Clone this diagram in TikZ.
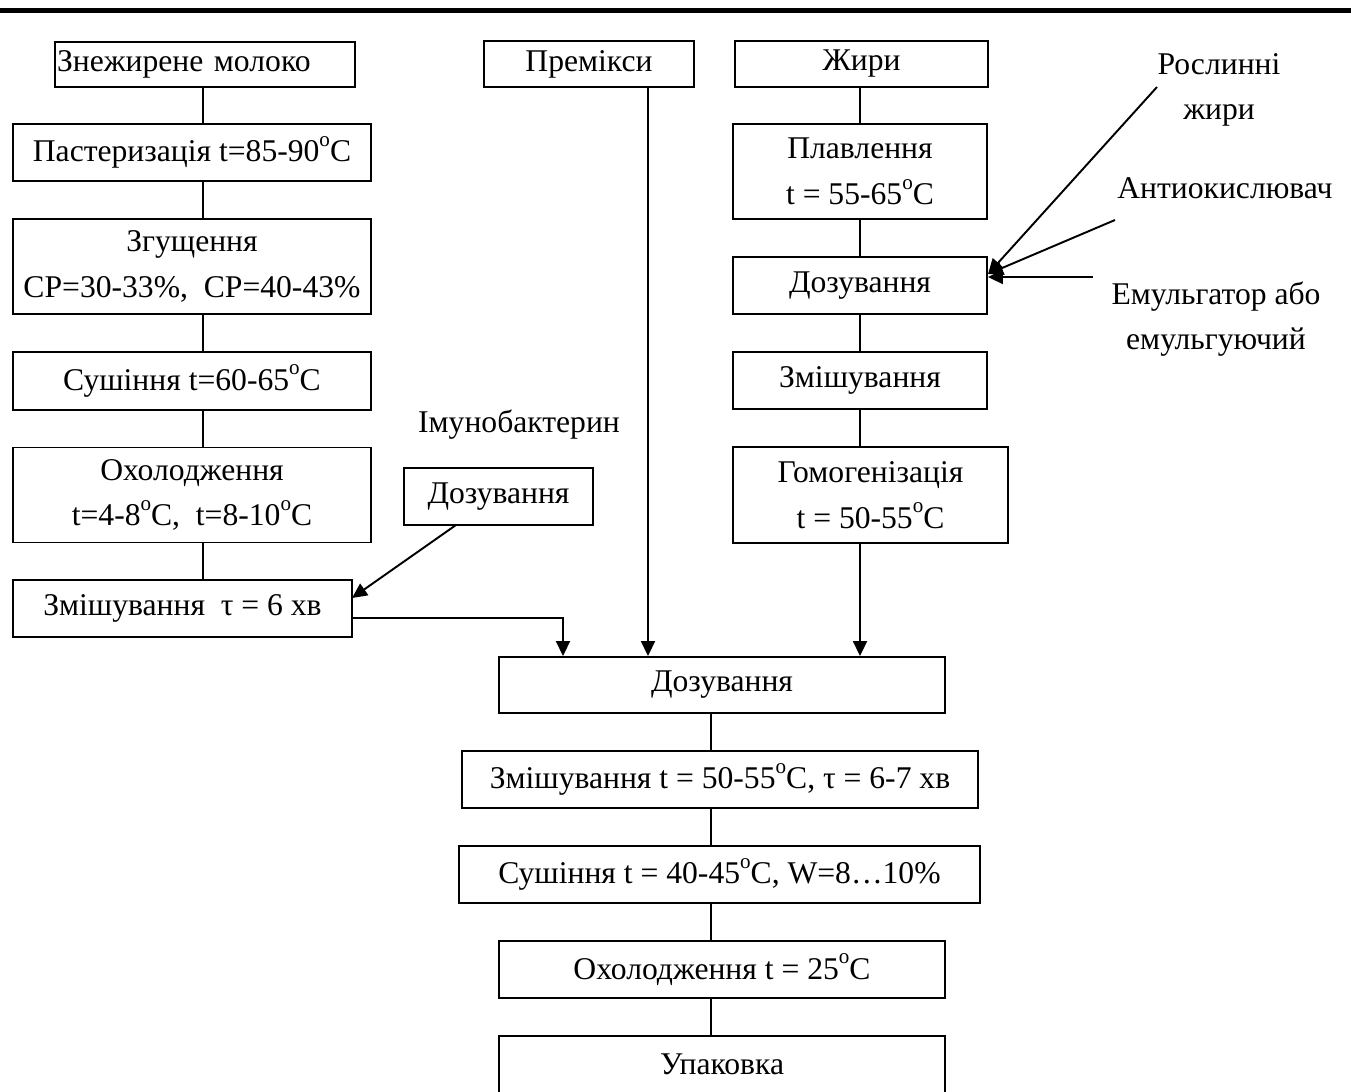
\documentclass[tikz,border=0pt]{standalone}
\usepackage{fontspec}
\setmainfont{Liberation Serif}
\usetikzlibrary{arrows.meta}
\newcommand{\dg}{\raisebox{1.05ex}{\fontsize{12}{12}\selectfont o}}
\tikzset{
	box/.style={draw=black, line width=1.1pt, inner sep=1pt, align=center},
	flow/.style={line width=1.1pt},
	feed/.style={line width=1.1pt, -{Triangle[length=0.3cm, width=0.28cm]}},
	lbl/.style={align=center, inner sep=0pt}
}
\begin{document}
\begin{tikzpicture}[x=0.02cm, y=-0.02cm, font=\fontsize{18}{26}\selectfont]
	\useasboundingbox (0,0) rectangle (1351,1091);
	\clip (0,0) rectangle (1351,1091);
	\fill[black] (0,8) rectangle (1351,13);

	% left column
	\node[box, minimum width=6cm, minimum height=0.9cm, text width=5.92cm, align=left] (milk) at (205,64.5) {Знежирене молоко};
	\node[box, minimum width=7.16cm, minimum height=1.14cm] (past) at (192,152.5) {Пастеризація t=85-90\dg C};
	\node[box, minimum width=7.16cm, minimum height=1.9cm] (conc) at (192,266.5) {Згущення\\СР=30-33\%,\ \ СР=40-43\%};
	\node[box, minimum width=7.16cm, minimum height=1.16cm] (dry1) at (192,381) {Сушіння t=60-65\dg C};
	\node[box, minimum width=7.16cm, minimum height=1.9cm] (cool1) at (192,495) {Охолодження\\t=4-8\dg C,\ \ t=8-10\dg C};
	\node[box, minimum width=6.78cm, minimum height=1.14cm] (mixtau) at (182.5,608.5) {Змішування\ \ τ = 6 хв};

	% middle
	\node[box, minimum width=4.2cm, minimum height=0.92cm] (premix) at (589,64) {Премікси};
	\node[lbl] (imuno) at (519,425) {Імунобактерин};
	\node[box, minimum width=3.78cm, minimum height=1.14cm] (dose2) at (498.5,496.5) {Дозування};

	% right column
	\node[box, minimum width=5.06cm, minimum height=0.92cm] (fats) at (861.5,64) {Жири};
	\node[box, minimum width=5.08cm, minimum height=1.9cm] (melt) at (860,171.5) {Плавлення\\t = 55-65\dg C};
	\node[box, minimum width=5.08cm, minimum height=1.14cm] (dose1) at (860,285.5) {Дозування};
	\node[box, minimum width=5.08cm, minimum height=1.14cm] (mix1) at (860,380.5) {Змішування};
	\node[box, minimum width=5.5cm, minimum height=1.92cm] (homog) at (870.5,495) {Гомогенізація\\t = 50-55\dg C};
	\node[lbl] (veg) at (1219,90) {Рослинні\\жири};
	\node[lbl] (antiox) at (1225,188) {Антиокислювач};
	\node[lbl] (emul) at (1216,319) {Емульгатор або\\емульгуючий};

	% bottom column
	\node[box, minimum width=8.92cm, minimum height=1.12cm] (dose3) at (722,685) {Дозування};
	\node[box, minimum width=10.32cm, minimum height=1.14cm] (mix2) at (720,779.5) {Змішування t = 50-55\dg C, τ = 6-7 хв};
	\node[box, minimum width=10.42cm, minimum height=1.14cm] (dry2) at (719.5,874.5) {Сушіння t = 40-45\dg C, W=8…10\%};
	\node[box, minimum width=8.92cm, minimum height=1.14cm] (cool2) at (722,969.5) {Охолодження t = 25\dg C};
	\node[box, minimum width=8.92cm, minimum height=1.14cm] (pack) at (722,1064.5) {Упаковка};

	\coordinate (lx) at (203,0);
	\coordinate (rx) at (860,0);
	\coordinate (bx) at (711,0);
	\coordinate (px) at (648,0);
	\coordinate (mx) at (563,618);
	\coordinate (in1) at (988,274);
	\coordinate (vegend) at (1157,87);
	\coordinate (antend) at (1115,220);
	\coordinate (emend) at (1093,277);

	\draw[flow] (milk.south -| lx) -- (past.north -| lx);
	\draw[flow] (past.south -| lx) -- (conc.north -| lx);
	\draw[flow] (conc.south -| lx) -- (dry1.north -| lx);
	\draw[flow] (dry1.south -| lx) -- (cool1.north -| lx);
	\draw[flow] (cool1.south -| lx) -- (mixtau.north -| lx);

	\draw[flow] (fats.south -| rx) -- (melt.north -| rx);
	\draw[flow] (melt.south -| rx) -- (dose1.north -| rx);
	\draw[flow] (dose1.south -| rx) -- (mix1.north -| rx);
	\draw[flow] (mix1.south -| rx) -- (homog.north -| rx);

	\draw[flow] (dose3.south -| bx) -- (mix2.north -| bx);
	\draw[flow] (mix2.south -| bx) -- (dry2.north -| bx);
	\draw[flow] (dry2.south -| bx) -- (cool2.north -| bx);
	\draw[flow] (cool2.south -| bx) -- (pack.north -| bx);

	\draw[feed] (vegend) -- (in1);
	\draw[feed] (antend) -- (in1);
	\draw[feed] (emend) -- (emend -| dose1.east);
	\draw[feed] (456,525) -- (352,598);
	\draw[feed] (mixtau.east |- mx) -- (mx) -- (dose3.north -| mx);
	\draw[feed] (premix.south -| px) -- (dose3.north -| px);
	\draw[feed] (homog.south -| rx) -- (dose3.north -| rx);
\end{tikzpicture}
\end{document}
